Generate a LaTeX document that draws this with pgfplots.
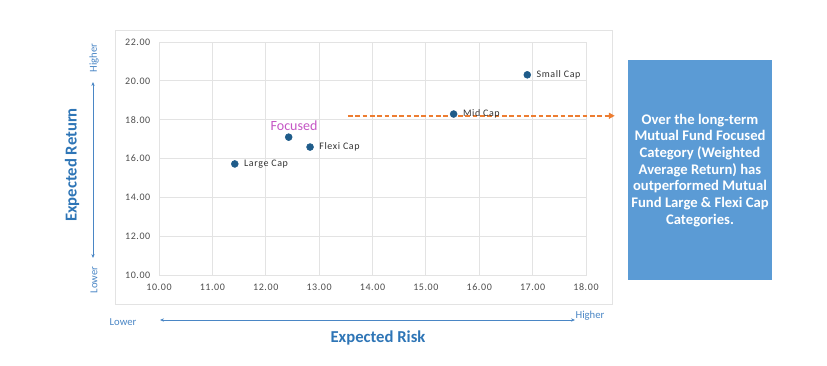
\documentclass[border=0pt]{standalone}
\usepackage{pgfplots}
\pgfplotsset{compat=1.18}
\usepackage{fontspec}
\setmainfont{Carlito}
\newfontfamily\spacedfont[LetterSpace=6.0]{Carlito}
\usetikzlibrary{arrows.meta}
\definecolor{axblue}{HTML}{2E75B6}
\definecolor{lightaxblue}{HTML}{4A86C5}
\definecolor{boxblue}{HTML}{5B9BD5}
\definecolor{markblue}{HTML}{1F5C8A}
\definecolor{tickgray}{HTML}{4D4D4D}
\definecolor{labelgray}{HTML}{333333}
\definecolor{focusmag}{HTML}{C455C4}
\definecolor{arroworange}{HTML}{ED7D31}
\definecolor{gridgray}{HTML}{E3E3E3}
\begin{document}
\begin{tikzpicture}
\path[use as bounding box] (0pt,0pt) rectangle (620.25pt,273.75pt);
\draw[color=gridgray] (86.25pt,45.75pt) rectangle (459pt,251.25pt);
\begin{axis}[
  at={(119.25pt,67.5pt)}, anchor=south west, scale only axis,
  width=320.25pt, height=174.75pt,
  xmin=10, xmax=18, ymin=10, ymax=22,
  xtick={10,11,12,13,14,15,16,17,18},
  ytick={10,12,14,16,18,20,22},
  grid=major, grid style={gridgray, line width=0.6pt},
  axis line style={gridgray, line width=0.6pt},
  tick style={draw=none},
  ticklabel style={font=\spacedfont\fontsize{7.5}{9}\selectfont, color=tickgray},
  xticklabel style={yshift=-3pt},
  yticklabel style={xshift=-3pt},
  /pgf/number format/fixed,
  /pgf/number format/fixed zerofill,
  /pgf/number format/precision=2,
  /pgf/number format/assume math mode=true,
  clip=false,
]
\addplot[draw=arroworange, line width=1.1pt, dash pattern=on 3.5pt off 2pt,
  -{Triangle[length=4.5pt,width=4.5pt]}, forget plot]
  coordinates {(13.54,18.2) (18.54,18.2)};
\addplot[only marks, mark=*, mark size=2.6pt, color=markblue,
  point meta=explicit symbolic, nodes near coords,
  nodes near coords style={anchor=west, xshift=3.5pt,
    font=\spacedfont\fontsize{7.5}{9}\selectfont, text=labelgray}]
  coordinates {
    (11.42,15.72) [Large Cap]
    (12.83,16.59) [Flexi Cap]
    (15.52,18.29) [Mid Cap]
    (16.90,20.31) [Small Cap]
  };
\addplot[only marks, mark=*, mark size=2.6pt, color=markblue,
  point meta=explicit symbolic, nodes near coords,
  nodes near coords style={anchor=south, xshift=4pt, yshift=1pt,
    font=\fontsize{10.5}{12}\selectfont, text=focusmag}]
  coordinates {
    (12.43,17.10) [Focused]
  };
\end{axis}
% y-axis decorations
\node[rotate=90, font=\bfseries\fontsize{12.5}{14}\selectfont, text=axblue] at (54pt,150pt) {Expected Return};
\draw[lightaxblue, line width=0.6pt, {Stealth[length=3pt,width=2.5pt]}-{Stealth[length=3pt,width=2.5pt]}] (69.75pt,80.25pt) -- (69.75pt,212.25pt);
\node[rotate=90, font=\fontsize{8}{9}\selectfont, text=lightaxblue] at (70.5pt,230.25pt) {Higher};
\node[rotate=90, font=\fontsize{8}{9}\selectfont, text=lightaxblue] at (70.5pt,63.75pt) {Lower};
% x-axis decorations
\node[font=\fontsize{8}{9}\selectfont, text=lightaxblue] at (92.25pt,32.25pt) {Lower};
\draw[lightaxblue, line width=0.6pt, {Stealth[length=3pt,width=2.5pt]}-{Stealth[length=3pt,width=2.5pt]}] (120pt,33.75pt) -- (431.25pt,33.75pt);
\node[font=\fontsize{8}{9}\selectfont, text=lightaxblue] at (442.5pt,36.75pt) {Higher};
\node[font=\bfseries\fontsize{12.5}{14}\selectfont, text=axblue] at (283.5pt,20.25pt) {Expected Risk};
% annotation box
\fill[boxblue] (471pt,63.75pt) rectangle (579pt,228.75pt);
\node[text=white, align=center, font=\bfseries\fontsize{11}{12.5}\selectfont] at (525pt,146pt)
  {Over the long-term\\Mutual Fund Focused\\Category (Weighted\\Average Return) has\\outperformed Mutual\\Fund Large \& Flexi Cap\\Categories.};
\end{tikzpicture}
\end{document}
